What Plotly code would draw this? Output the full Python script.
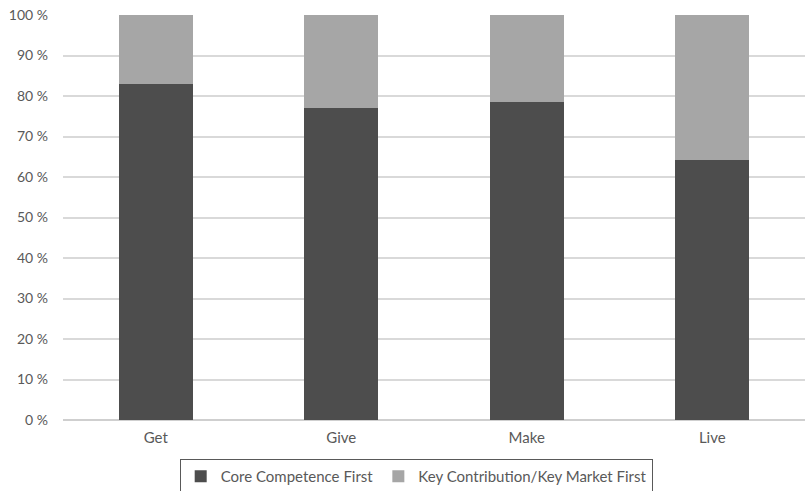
import plotly.graph_objects as go

categories = ["Get", "Give", "Make", "Live"]
core_first = [83.0, 77.0, 78.4, 64.3]
key_first = [17.0, 23.0, 21.6, 35.7]
y_ticks = [0, 10, 20, 30, 40, 50, 60, 70, 80, 90, 100]

DARK = "#4d4d4d"
LIGHT = "#a6a6a6"
TEXT = "#595959"
FONT = "Lato"

fig = go.Figure()
fig.add_trace(go.Bar(x=categories, y=core_first, name="Core Competence First",
                     marker=dict(color=DARK, line=dict(width=0))))
fig.add_trace(go.Bar(x=categories, y=key_first, name="Key Contribution/Key Market First",
                     marker=dict(color=LIGHT, line=dict(width=0))))

fig.update_layout(
    width=805, height=491,
    barmode="stack", bargap=0.6,
    plot_bgcolor="white", paper_bgcolor="white",
    margin=dict(l=63, r=0, t=15, b=71, autoexpand=False),
    font=dict(family=FONT, size=14, color=TEXT),
    legend=dict(
        orientation="h", x=0.476, xanchor="center", y=-0.096, yanchor="top",
        bordercolor="#595959", borderwidth=1, traceorder="normal",
        font=dict(family=FONT, size=15, color=TEXT),
        itemwidth=30, tracegroupgap=0,
    ),
    showlegend=True,
)
fig.update_yaxes(
    range=[0, 100], tickvals=y_ticks, ticktext=[f"{v} %" for v in y_ticks],
    showgrid=True, gridcolor="#d9d9d9", gridwidth=1.5,
    zeroline=True, zerolinecolor="#cfcfcf", zerolinewidth=1.5,
    showline=False, ticks="", ticklabelstandoff=14,
    tickfont=dict(family=FONT, size=14, color=TEXT),
)
fig.update_xaxes(
    showgrid=False, showline=False, ticks="", ticklabelstandoff=7,
    tickfont=dict(family=FONT, size=15, color=TEXT),
)

fig.write_html("out.html")
